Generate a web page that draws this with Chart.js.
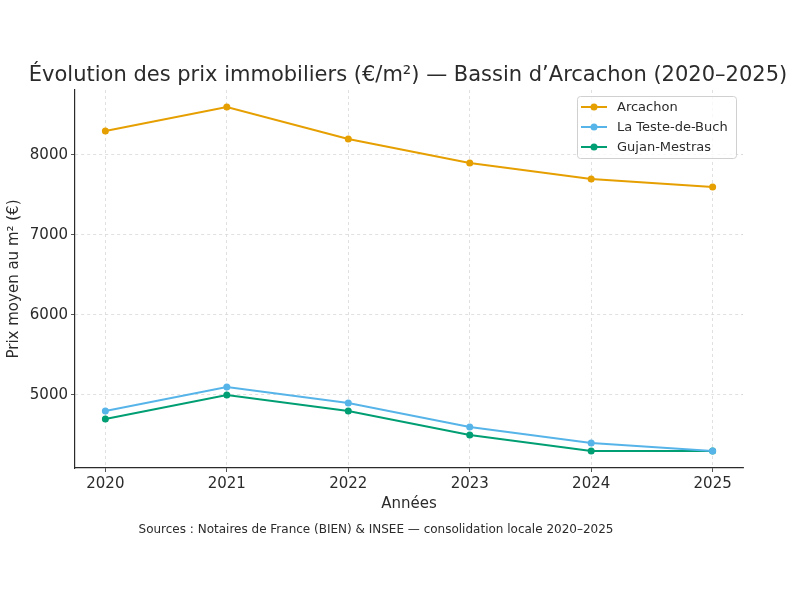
<!DOCTYPE html>
<html>
<head>
<meta charset="utf-8">
<script src="https://cdn.jsdelivr.net/npm/chart.js@4/dist/chart.umd.min.js"></script>
<style>
  html, body { margin: 0; padding: 0; background: #fff; }
  canvas { display: block; }
</style>
</head>
<body>
<canvas id="chart" width="800" height="600"></canvas>
<script>
// data
const years = [2020, 2021, 2022, 2023, 2024, 2025];
const arcachon = [8300, 8600, 8200, 7900, 7700, 7600];
const testeDeBuch = [4800, 5100, 4900, 4600, 4400, 4300];
const gujanMestras = [4700, 5000, 4800, 4500, 4300, 4300];
const yTicks = [5000, 6000, 7000, 8000];

const seriesNames = ['Arcachon', 'La Teste-de-Buch', 'Gujan-Mestras'];
const seriesColors = ['#E69F00', '#56B4E9', '#009E73'];

const titleText = 'Évolution des prix immobiliers (€/m²) — Bassin d’Arcachon (2020–2025)';
const sourceText = 'Sources : Notaires de France (BIEN) & INSEE — consolidation locale 2020–2025';

const FONT = '"DejaVu Sans", sans-serif';
const TEXT = '#2b2b2b';

function toPoints(values) {
  return years.map((yr, i) => ({ x: yr, y: values[i] }));
}

const datasets = [arcachon, testeDeBuch, gujanMestras].map((vals, i) => ({
  label: seriesNames[i],
  data: toPoints(vals),
  borderColor: seriesColors[i],
  backgroundColor: seriesColors[i],
  borderWidth: 2,
  pointRadius: 3.5,
  pointBorderWidth: 0,
  tension: 0
}));

// title, source line and matplotlib-style legend box
const extras = {
  id: 'extras',
  afterDraw(chart) {
    const ctx = chart.ctx;
    ctx.save();
    ctx.fillStyle = TEXT;
    ctx.textAlign = 'center';
    ctx.textBaseline = 'middle';
    ctx.font = '21px ' + FONT;
    ctx.fillText(titleText, 408, 76);
    ctx.font = '12px ' + FONT;
    ctx.fillText(sourceText, 376, 530);

    // legend
    const bx = 577, by = 96, bw = 159, bh = 62;
    ctx.beginPath();
    ctx.roundRect(bx + 0.5, by + 0.5, bw, bh, 3);
    ctx.fillStyle = 'rgba(255,255,255,0.8)';
    ctx.fill();
    ctx.strokeStyle = '#d0d0d0';
    ctx.lineWidth = 1;
    ctx.stroke();
    ctx.textAlign = 'left';
    ctx.font = '13px ' + FONT;
    chart.data.datasets.forEach((ds, i) => {
      const y = by + 11 + i * 20;
      ctx.strokeStyle = ds.borderColor;
      ctx.lineWidth = 2;
      ctx.beginPath();
      ctx.moveTo(581, y);
      ctx.lineTo(607, y);
      ctx.stroke();
      ctx.fillStyle = ds.borderColor;
      ctx.beginPath();
      ctx.arc(594, y, 3.5, 0, Math.PI * 2);
      ctx.fill();
      ctx.fillStyle = TEXT;
      ctx.fillText(ds.label, 617, y + 1);
    });
    ctx.restore();
  }
};

const gridOpts = {
  color: '#d8d8d8',
  tickBorderDash: [],
  tickColor: TEXT,
  tickLength: 4,
  lineWidth: 0.8
};
const borderOpts = { display: true, color: TEXT, width: 1.2, dash: [3, 3] };

new Chart(document.getElementById('chart'), {
  type: 'line',
  data: { datasets },
  options: {
    responsive: false,
    animation: false,
    devicePixelRatio: 1,
    layout: { padding: { top: 90, left: 0, right: 57, bottom: 87 } },
    plugins: {
      legend: { display: false },
      title: { display: false },
      tooltip: { enabled: false }
    },
    scales: {
      x: {
        type: 'linear',
        min: 2019.75,
        max: 2025.25,
        afterBuildTicks: (s) => { s.ticks = years.map((v) => ({ value: v })); },
        afterFit: (s) => { s.height = 45; },
        grid: gridOpts,
        border: borderOpts,
        ticks: {
          color: TEXT,
          font: { family: FONT, size: 15 },
          padding: 3,
          maxRotation: 0,
          callback: (v) => String(v)
        },
        title: {
          display: true,
          text: 'Années',
          color: TEXT,
          font: { family: FONT, size: 15 },
          padding: { top: 0, bottom: 0 }
        }
      },
      y: {
        type: 'linear',
        min: 4087,
        max: 8812,
        afterBuildTicks: (s) => { s.ticks = yTicks.map((v) => ({ value: v })); },
        afterFit: (s) => { s.width = 75; },
        grid: gridOpts,
        border: borderOpts,
        ticks: {
          color: TEXT,
          font: { family: FONT, size: 15 },
          padding: 3,
          callback: (v) => String(v)
        },
        title: {
          display: true,
          text: 'Prix moyen au m² (€)',
          color: TEXT,
          font: { family: FONT, size: 15 },
          padding: { top: 5, bottom: 0 }
        }
      }
    }
  },
  plugins: [extras]
});
</script>
</body>
</html>
